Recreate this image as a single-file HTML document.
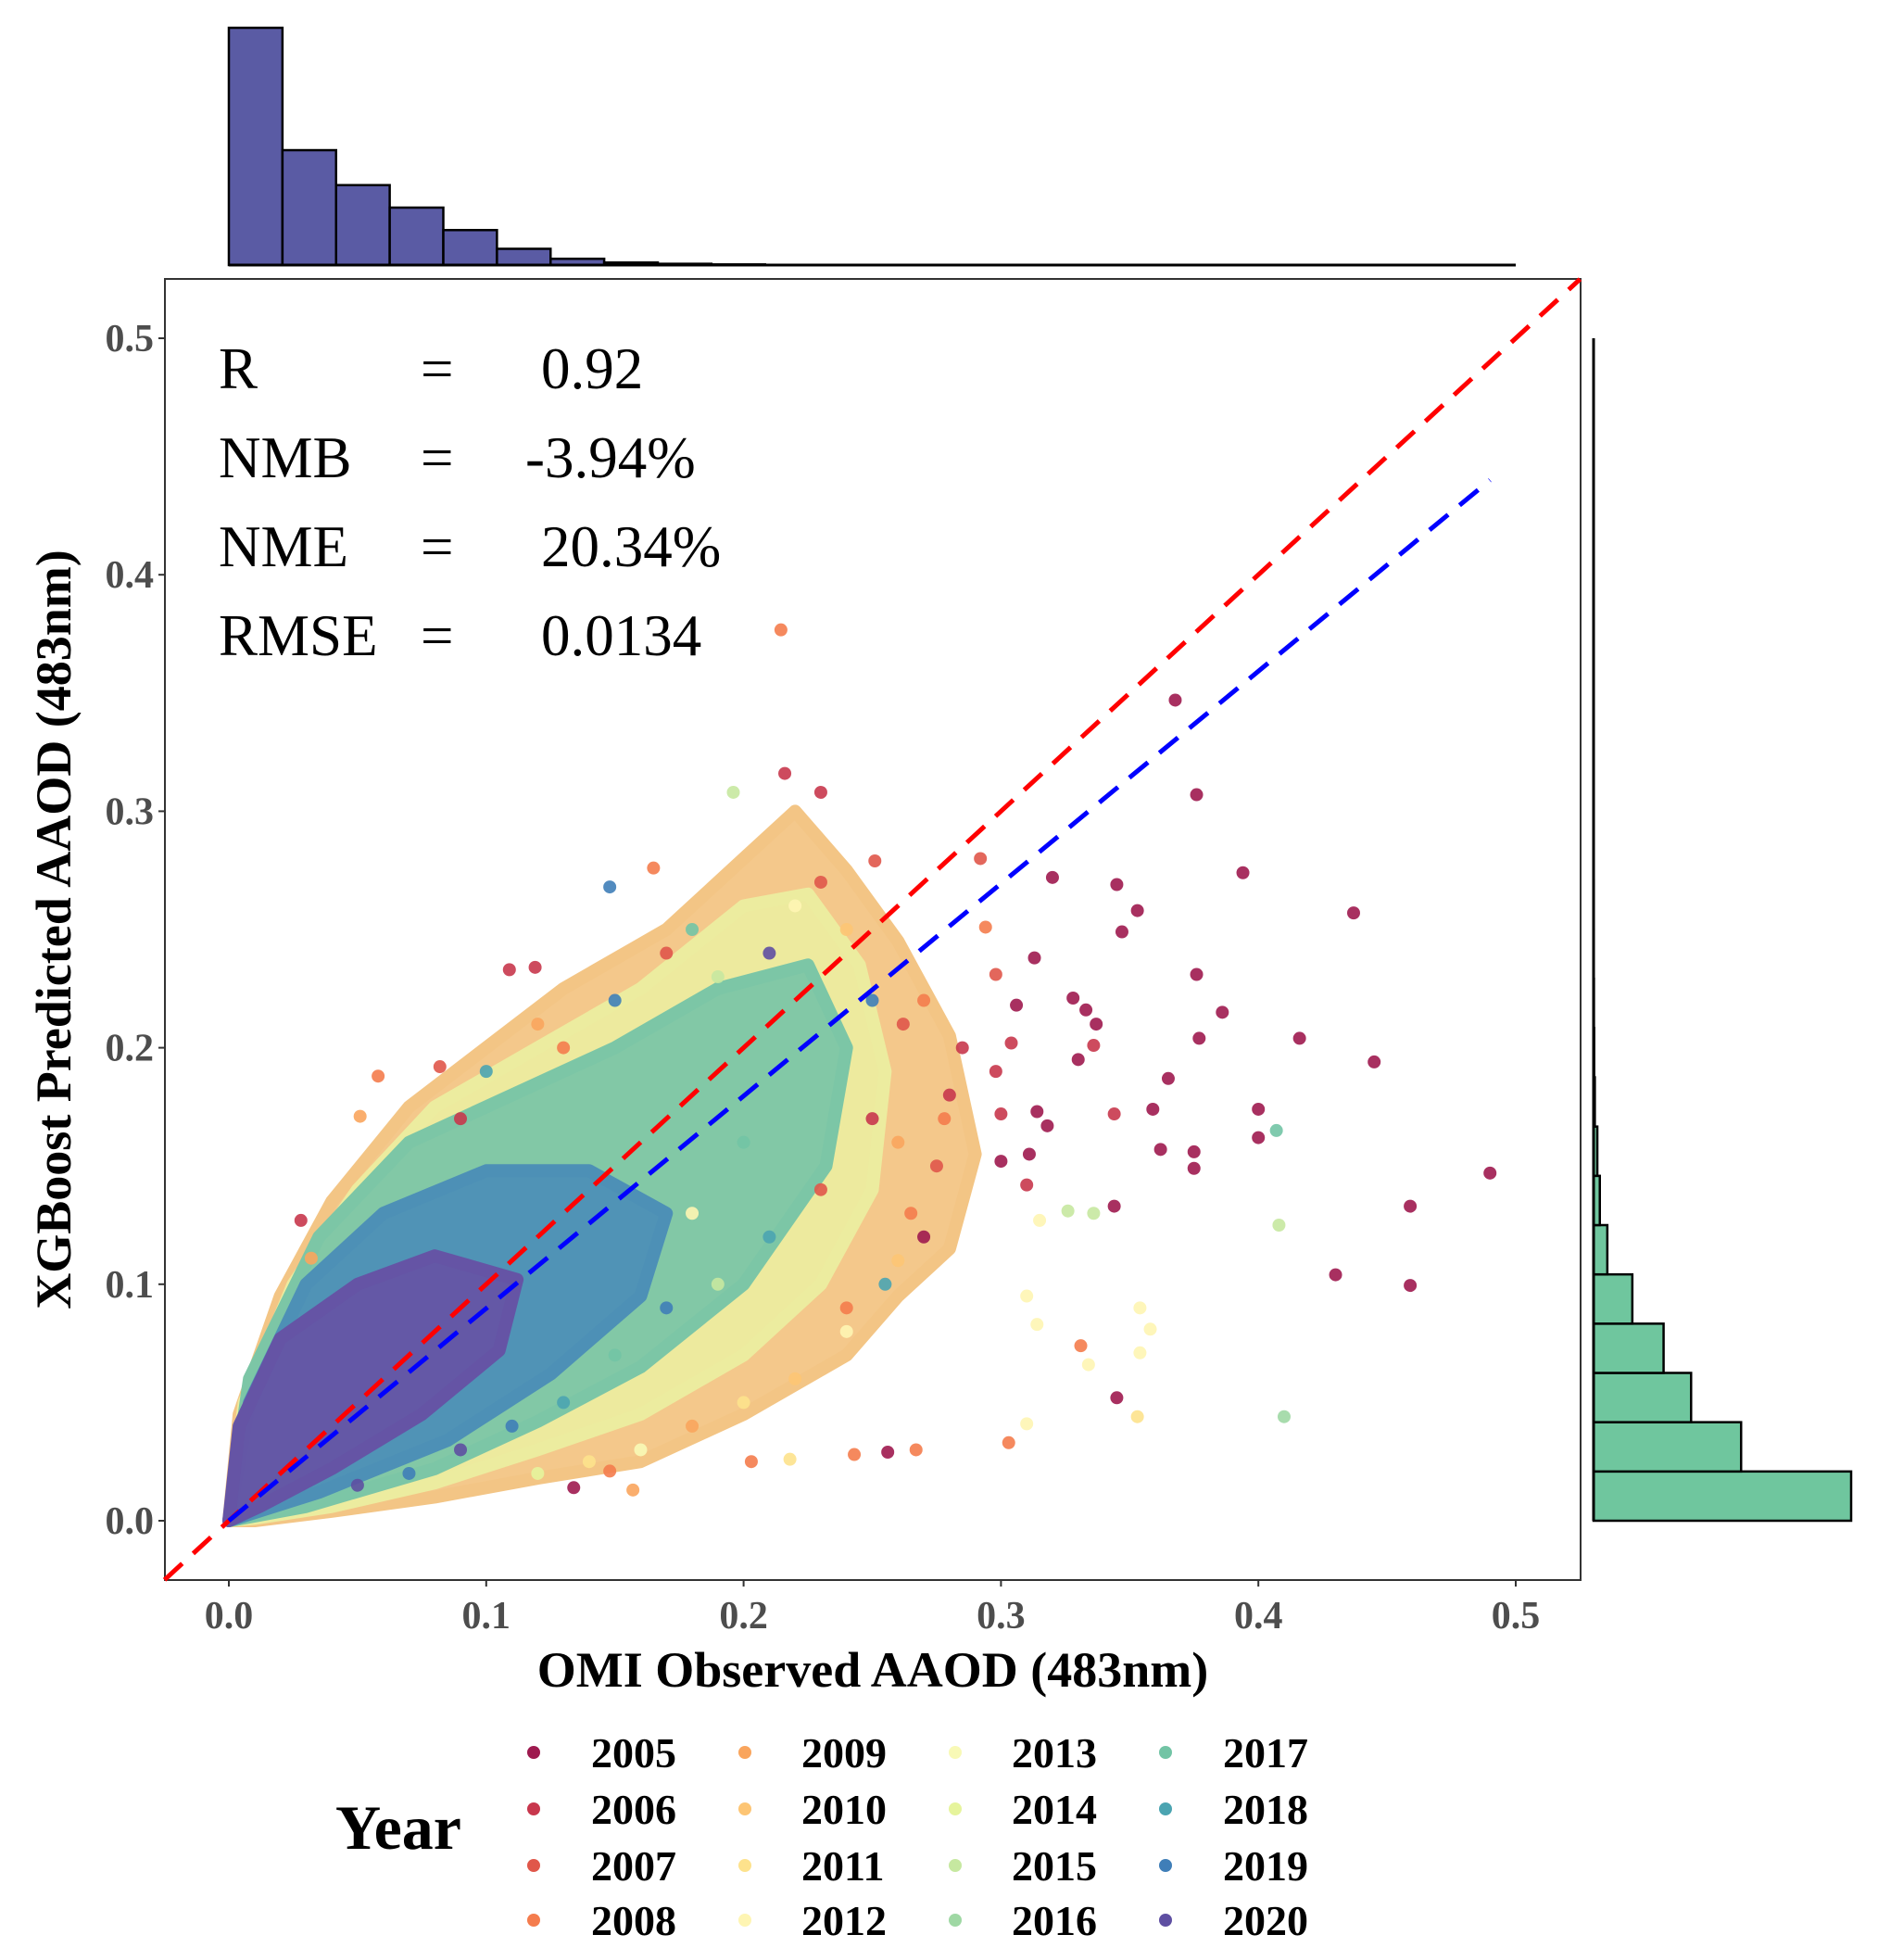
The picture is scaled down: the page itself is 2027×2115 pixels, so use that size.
<!DOCTYPE html>
<html><head><meta charset="utf-8"><style>
body{margin:0;background:#fff}
svg{display:block;font-family:"Liberation Serif",serif}
</style></head><body>
<svg id="chart" width="2027" height="2115" viewBox="0 0 2027 2115">
<g id="topHist"></g>
<g id="rightHist"></g>
<rect x="178" y="301" width="1528" height="1404" fill="#fff" stroke="#333" stroke-width="2"/>
<g id="cloud"></g>
<g id="pts"></g>
<g id="lines"></g>
<g id="axes"></g>
<g font-size="63" fill="#000">
<text x="236" y="419">R</text>
<text x="454" y="419">=</text>
<text x="584" y="419">0.92</text>
<text x="236" y="515">NMB</text>
<text x="454" y="515">=</text>
<text x="567" y="515">-3.94%</text>
<text x="236" y="611">NME</text>
<text x="454" y="611">=</text>
<text x="584" y="611">20.34%</text>
<text x="236" y="707">RMSE</text>
<text x="454" y="707">=</text>
<text x="584" y="707">0.0134</text>
</g>
<text x="942" y="1820" text-anchor="middle" font-size="54" font-weight="bold">OMI Observed AAOD (483nm)</text>
<text transform="translate(76,1003) rotate(-90)" text-anchor="middle" font-size="54" font-weight="bold">XGBoost Predicted AAOD (483nm)</text>
<text x="362" y="1995" font-size="68" font-weight="bold">Year</text>
<g id="legend"></g>
</svg>
<script>
const years=[2005,2006,2007,2008,2009,2010,2011,2012,2013,2014,2015,2016,2017,2018,2019,2020];
const yearColors=["#9e1a4f","#c8374d","#e0574a","#f47c4d","#f9a55d","#fdc574","#fde28c","#fef5b3","#f8f9b6","#e6f49c","#c6e8a0","#9fd8a4","#72c4a5","#4ba4b1","#3f7eb8","#5e4fa2"];
const topHistCounts=[190,92,64,46,28,13,5,2,1,0.5,0,0,0,0,0,0,0,0,0,0,0,0,0,0];
const rightHistCounts=[206,118,78,56,31,11,5,3,1,0.5,0.3,0.2,0.2,0.1,0,0,0,0,0,0,0,0,0,0];
const binWidth=0.5/24;
const xTicks=[0,0.1,0.2,0.3,0.4,0.5];
const xTickLabels=["0.0","0.1","0.2","0.3","0.4","0.5"];
const yTicks=[0,0.1,0.2,0.3,0.4,0.5];
const yTickLabels=["0.0","0.1","0.2","0.3","0.4","0.5"];
const fitSlope=0.898, fitIntercept=0.0, fitXmax=0.49;
const envOuter=[[0,0],[0.004,0.045],[0.02,0.095],[0.04,0.135],[0.07,0.175],[0.1,0.2],[0.13,0.225],[0.17,0.25],[0.2,0.28],[0.22,0.3],[0.24,0.275],[0.26,0.245],[0.28,0.205],[0.29,0.155],[0.28,0.115],[0.26,0.095],[0.24,0.07],[0.2,0.045],[0.16,0.025],[0.12,0.018],[0.08,0.01],[0.04,0.004],[0.01,0]];
const envYellow=[[0,0],[0.006,0.05],[0.025,0.1],[0.05,0.14],[0.08,0.175],[0.12,0.2],[0.16,0.225],[0.2,0.26],[0.225,0.265],[0.245,0.235],[0.255,0.19],[0.25,0.14],[0.23,0.1],[0.2,0.07],[0.16,0.045],[0.12,0.03],[0.08,0.016],[0.04,0.006],[0.01,0.001]];
const envTeal=[[0,0],[0.008,0.06],[0.035,0.12],[0.07,0.16],[0.11,0.18],[0.15,0.2],[0.19,0.225],[0.225,0.235],[0.24,0.2],[0.232,0.15],[0.2,0.1],[0.16,0.065],[0.12,0.042],[0.08,0.022],[0.03,0.006]];
const envBlue=[[0,0],[0.008,0.05],[0.03,0.1],[0.06,0.13],[0.1,0.148],[0.14,0.148],[0.17,0.13],[0.16,0.095],[0.125,0.062],[0.085,0.034],[0.035,0.012]];
const envPurple=[[0,0],[0.004,0.04],[0.02,0.077],[0.05,0.1],[0.08,0.112],[0.112,0.102],[0.105,0.072],[0.075,0.045],[0.04,0.022],[0.012,0.006]];
const envColors=["#f3c585","#ecec9f","#7cc6a6","#4d90b6","#6554a5"];
const ptX=[0.2145,0.3677,0.376,0.394,0.437,0.445,0.416,0.49,0.459,0.459,0.43,0.4,0.4,0.407,0.408,0.41,0.345,0.353,0.347,0.386,0.377,0.376,0.365,0.359,0.344,0.362,0.375,0.375,0.344,0.345,0.328,0.333,0.337,0.336,0.33,0.32,0.313,0.306,0.304,0.3,0.314,0.318,0.311,0.3,0.31,0.292,0.294,0.298,0.298,0.31,0.314,0.354,0.358,0.354,0.353,0.31,0.334,0.331,0.303,0.315,0.326,0.336,0.203,0.218,0.243,0.256,0.267,0.148,0.157,0.134,0.058,0.051,0.028,0.032,0.082,0.109,0.119,0.148,0.165,0.196,0.216,0.23,0.251,0.27,0.28,0.275,0.265,0.285,0.26,0.27,0.255,0.262,0.278,0.24,0.25,0.23,0.22,0.21,0.19,0.18,0.17,0.15,0.13,0.12,0.1,0.09,0.2,0.22,0.24,0.18,0.16,0.14,0.12,0.21,0.23,0.19,0.17,0.15,0.13,0.11,0.09,0.07,0.05,0.25,0.26,0.24,0.2,0.18];
const ptY=[0.3767,0.347,0.307,0.274,0.257,0.194,0.204,0.147,0.133,0.0995,0.104,0.174,0.162,0.165,0.125,0.044,0.269,0.258,0.249,0.215,0.204,0.231,0.187,0.174,0.172,0.157,0.156,0.149,0.133,0.052,0.221,0.216,0.21,0.201,0.195,0.272,0.238,0.218,0.202,0.172,0.173,0.167,0.155,0.152,0.142,0.28,0.251,0.231,0.19,0.095,0.083,0.09,0.081,0.071,0.044,0.041,0.066,0.074,0.033,0.127,0.131,0.13,0.025,0.026,0.028,0.029,0.03,0.021,0.013,0.014,0.188,0.171,0.127,0.111,0.192,0.233,0.234,0.268,0.276,0.308,0.316,0.308,0.279,0.22,0.18,0.15,0.13,0.2,0.16,0.12,0.1,0.21,0.17,0.25,0.22,0.27,0.26,0.24,0.23,0.25,0.24,0.22,0.2,0.21,0.19,0.17,0.05,0.06,0.08,0.04,0.03,0.025,0.02,0.12,0.14,0.1,0.09,0.07,0.05,0.04,0.03,0.02,0.015,0.17,0.11,0.09,0.16,0.13];
const ptYear=[3,0,0,0,0,0,0,0,0,0,0,0,0,12,10,11,0,0,0,0,0,0,0,0,1,0,0,0,0,0,0,0,0,1,0,0,0,0,1,1,0,0,0,0,1,2,3,2,1,7,7,7,7,7,6,7,7,3,3,7,10,10,3,6,3,0,3,3,4,0,3,4,1,4,2,1,1,14,3,10,1,1,2,3,1,2,3,1,4,0,13,2,3,5,14,2,7,15,10,12,2,14,3,4,13,1,6,5,7,4,8,6,9,13,2,10,14,12,13,14,15,14,15,1,5,3,12,7];

const X0=247, XS=2778, Y0=1641, YS=2552;
const sx=v=>X0+v*XS, sy=v=>Y0-v*YS;
const NS="http://www.w3.org/2000/svg";
function mk(tag,attrs,parent){const e=document.createElementNS(NS,tag);for(const k in attrs)e.setAttribute(k,attrs[k]);parent.appendChild(e);return e;}

const th=document.getElementById('topHist');
const thBase=286, thScale=(286-30)/190;
topHistCounts.forEach((c,i)=>{
  if(c<=0)return;
  const r=mk('rect',{x:sx(i*binWidth),y:thBase-c*thScale,width:sx(binWidth)-sx(0),height:c*thScale,fill:'#5a5ba4',stroke:'#000','stroke-width':2.5},th);
  
  
});
const thl=mk('line',{x1:sx(0),x2:sx(0.5),y1:thBase,y2:thBase,stroke:'#000','stroke-width':3},th);



const rh=document.getElementById('rightHist');
const rhBase=1720, rhScale=(1998-1720)/206;
rightHistCounts.forEach((c,i)=>{
  if(c<=0)return;
  const r=mk('rect',{x:rhBase,y:sy((i+1)*binWidth),width:c*rhScale,height:sy(0)-sy(binWidth),fill:'#6fc69e',stroke:'#000','stroke-width':2.5},rh);
  
  
});
const rhl=mk('line',{x1:rhBase,x2:rhBase,y1:sy(0),y2:sy(0.5),stroke:'#000','stroke-width':3},rh);



const cl=document.getElementById('cloud');
[envOuter,envYellow,envTeal,envBlue,envPurple].forEach((env,i)=>{
  const p=mk('polygon',{points:env.map(d=>sx(d[0])+','+sy(d[1])).join(' '),fill:envColors[i],stroke:envColors[i],'stroke-width':14,'stroke-linejoin':'round','fill-opacity':0.95},cl);
  
  
});

const pg=document.getElementById('pts');
ptX.forEach((x,i)=>{
  const c=mk('circle',{cx:sx(x),cy:sy(ptY[i]),r:7,fill:yearColors[ptYear[i]],'fill-opacity':0.9},pg);
  
  
});

const lg=document.getElementById('lines');
const l1=mk('line',{x1:sx(-0.025),y1:sy(-0.025),x2:sx(0.525),y2:sy(0.525),stroke:'#ff0000','stroke-width':5,'stroke-dasharray':'26 16'},lg);


const l2=mk('line',{x1:sx(0),y1:sy(fitIntercept),x2:sx(fitXmax),y2:sy(fitIntercept+fitSlope*fitXmax),stroke:'#0000ff','stroke-width':5,'stroke-dasharray':'26 16'},lg);



const ax=document.getElementById('axes');
xTicks.forEach((v,i)=>{
  const t=mk('line',{x1:sx(v),x2:sx(v),y1:1705,y2:1712,stroke:'#333','stroke-width':2},ax);
  
  
  const tx=mk('text',{x:sx(v),y:1757,'text-anchor':'middle','font-size':42,'font-weight':'bold',fill:'#4d4d4d'},ax);
  tx.textContent=xTickLabels[i];
  
  
});
yTicks.forEach((v,i)=>{
  const t=mk('line',{x1:171,x2:178,y1:sy(v),y2:sy(v),stroke:'#333','stroke-width':2},ax);
  
  
  const tx=mk('text',{x:166,y:sy(v)+14,'text-anchor':'end','font-size':42,'font-weight':'bold',fill:'#4d4d4d'},ax);
  tx.textContent=yTickLabels[i];
  
  
});

const lgd=document.getElementById('legend');
const colDot=[576,804,1031,1258], colTxt=[638,865,1092,1320], rowY=[1891,1952,2013,2072];
years.forEach((y,i)=>{
  const c=Math.floor(i/4), r=i%4;
  const d=mk('circle',{cx:colDot[c],cy:rowY[r],r:7,fill:yearColors[i]},lgd);
  
  
  const t=mk('text',{x:colTxt[c],y:rowY[r]+16,'font-size':46,'font-weight':'bold'},lgd);
  t.textContent=y;
  
  
});
</script>
</body></html>
